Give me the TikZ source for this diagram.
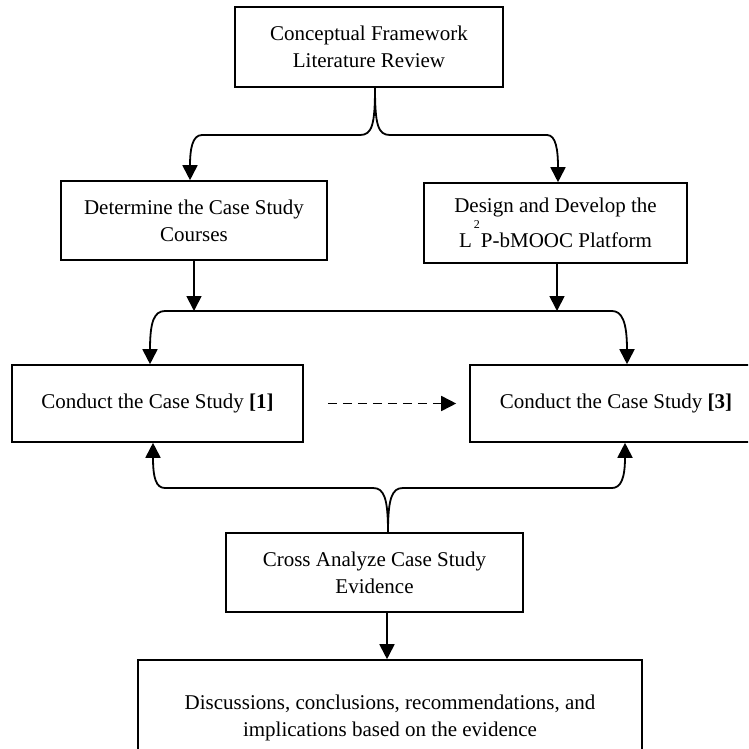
\documentclass[tikz,border=0pt]{standalone}
\usepackage{fontspec}
\setmainfont{Liberation Serif}
\usetikzlibrary{arrows.meta}
\begin{document}
\begin{tikzpicture}[x=1pt,y=-1pt,
  box/.style={draw, line width=1.6pt, rectangle, inner sep=0pt, align=center,
              font=\fontsize{21}{27}\selectfont},
  link/.style={line width=1.8pt},
  >={Triangle[length=15pt,width=15pt]}]
\useasboundingbox (0,0) rectangle (748,749);
\clip (0,0) rectangle (748,749);

% boxes
\node[box, minimum width=268pt, minimum height=80pt] (frame) at (369,47)
  {Conceptual Framework\\Literature Review};
\node[box, minimum width=266pt, minimum height=79pt] (courses) at (194,220.5)
  {Determine the Case Study\\Courses};
\node[box, minimum width=263pt, minimum height=80pt] (platform) at (555.5,223)
  {Design and Develop the\\[8pt]L\hspace{2pt}\raisebox{19pt}[0pt][0pt]{\fontsize{12}{12}\selectfont 2}\hspace{1pt}P-bMOOC Platform};
\node[box, minimum width=291pt, minimum height=77pt] (caseA) at (157.5,403.5)
  {Conduct the Case Study \textbf{[1]}};
\node[box, minimum width=292pt, minimum height=77pt] (caseC) at (616,403.5)
  {Conduct the Case Study \textbf{[3]}};
\node[box, minimum width=297pt, minimum height=79pt] (cross) at (374.5,572.5)
  {Cross Analyze Case Study\\Evidence};
\node[box, minimum width=504pt, minimum height=115pt] (concl) at (390,717.5)
  {Discussions, conclusions, recommendations, and\\implications based on the evidence};

% split below the framework box
\coordinate (topstem) at ([xshift=6pt]frame.south);
\draw[link,->] (topstem) .. controls (375,125) and (372,135) .. (360,135)
  -- (202,135) .. controls (192,135) and (190,150) .. ([xshift=-4pt]courses.north);
\draw[link,->] (topstem) .. controls (375,125) and (378,135) .. (390,135)
  -- (547,135) .. controls (556,135) and (558,150) .. ([xshift=2.5pt]platform.north);

% feeds into the shared bar
\coordinate (barL) at (courses.south |- 0,311);
\coordinate (barR) at (platform.south |- 0,311);
\draw[link,->] (courses.south) -- (barL);
\draw[link,->] ([xshift=1.5pt]platform.south) -- ([xshift=1.5pt]barR);
\draw[link,<->] ([xshift=-7.5pt]caseA.north) .. controls (150,322) and (154,311) .. (165,311)
  -- (612,311) .. controls (622,311) and (627,322) .. ([xshift=11pt]caseC.north);

% sequence between the case studies
\draw[link,->,dashed,dash pattern=on 9pt off 6pt,line width=1.6pt]
  ([xshift=24pt]caseA.east) -- ([xshift=-13pt]caseC.west);

% cross analysis feeds back to both case studies
\coordinate (botstem) at ([xshift=13.5pt]cross.north);
\draw[link,->] (botstem) .. controls (388,498) and (384,488) .. (373,488)
  -- (165,488) .. controls (156,488) and (153,478) .. ([xshift=-4.5pt]caseA.south);
\draw[link,->] (botstem) .. controls (388,498) and (392,488) .. (403,488)
  -- (612,488) .. controls (621,488) and (625,478) .. ([xshift=9pt]caseC.south);

% to the conclusions
\draw[link,->] ([xshift=12.5pt]cross.south) -- ([xshift=12.5pt]cross.south |- concl.north);
\end{tikzpicture}
\end{document}
